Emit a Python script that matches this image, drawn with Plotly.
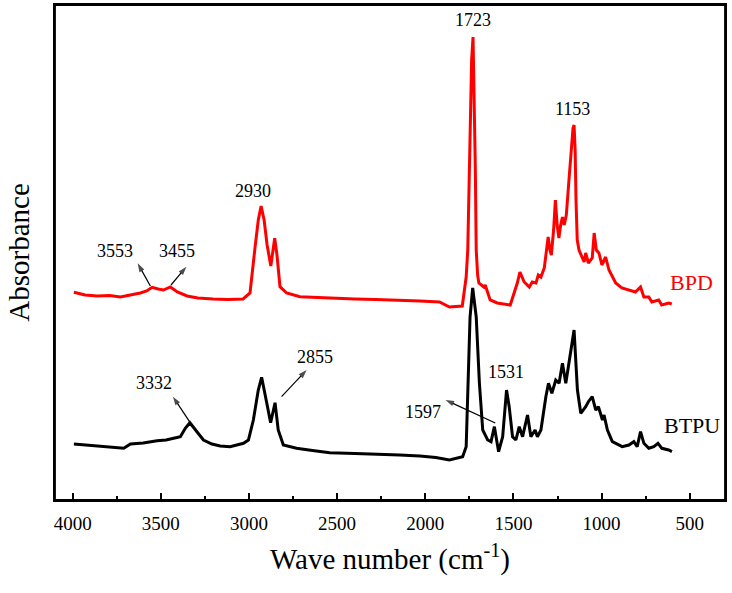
import plotly.graph_objects as go

# ---------------- data ----------------
bpd_wn = [3993, 3930, 3860, 3790, 3729, 3670, 3616, 3580, 3549, 3515, 3485, 3446, 3406, 3351, 3290,
          3203, 3120, 3033, 2994, 2965, 2947,
          2931, 2914, 2897, 2876, 2854, 2841, 2824, 2786, 2711, 2620, 2541, 2400, 2280, 2145, 2030,
          1919, 1863, 1790,
          1768, 1759, 1747, 1737, 1729, 1721, 1716, 1711, 1703, 1696, 1668, 1660, 1645, 1632,
          1592, 1518, 1478, 1463, 1439, 1410, 1393, 1372, 1359, 1344, 1325, 1313, 1303, 1293,
          1285, 1272, 1262, 1252, 1242, 1232, 1222, 1212, 1200, 1185, 1170, 1162, 1156, 1150,
          1145, 1138, 1128, 1113, 1099, 1090, 1075, 1053, 1042, 1030, 1015, 998, 977, 958, 920,
          885, 808, 779, 760, 732, 715, 676, 659, 619, 602]
bpd_abs = [207.7, 205, 204, 204.5, 203, 205, 207, 209, 212.7, 211, 210, 213, 208, 204, 202,
           201, 200.5, 201, 207, 253.3, 280,
           294, 280, 255, 234, 261.7, 245, 213.3, 207, 203.3, 202.5, 202, 201, 200.5, 200, 199,
           198, 193, 194,
           223, 250, 350, 440, 463, 400, 330, 250, 225, 217, 213, 215, 207, 200,
           197, 195, 217, 228, 218, 213, 218, 217, 225, 223, 232, 247, 263, 250,
           245, 270, 300, 275, 262, 275, 283, 275, 285, 320, 350, 372, 375, 350,
           300, 260, 250, 243, 238, 247, 237, 242, 267, 250, 247, 235, 243, 230, 217,
           212, 208, 213, 203, 203, 198, 200, 195, 197, 196]

btpu_wn = [3993, 3930, 3860, 3780, 3710, 3672, 3600, 3521, 3470, 3427, 3389, 3361, 3335, 3295, 3258,
           3210, 3163, 3107, 3060, 3031,
           3003, 2975, 2947, 2928, 2899, 2877, 2852, 2834, 2805, 2730, 2640, 2541, 2400, 2280, 2145,
           2030, 1940, 1863, 1788,
           1768, 1759, 1746, 1731, 1711, 1693, 1674, 1646, 1627, 1608, 1584, 1561, 1539, 1524,
           1505, 1486, 1467, 1448, 1420, 1401, 1377, 1364, 1344, 1316, 1301, 1282, 1260, 1241,
           1222, 1203, 1180, 1156, 1137, 1118, 1090, 1075, 1053, 1033, 1018, 995, 986, 967,
           939, 883, 845, 817, 798, 779, 760, 732, 704, 680, 658, 620, 601]
btpu_abs = [56, 55, 54, 53, 51.7, 56, 57, 59.3, 60, 61.7, 63.3, 71.7, 77.3, 68.3, 60,
            56, 54, 53.3, 55, 56.7,
            60, 80, 110, 122.7, 97, 77.3, 97.3, 70, 55, 51.7, 49.5, 47.3, 46.5, 46, 45,
            44, 42.5, 40, 43.3,
            53.3, 117, 183, 212, 183, 117, 70, 60, 58.3, 73.3, 48.3, 63.3, 110, 93.3,
            63.3, 60, 73.3, 63.3, 85, 63.3, 70, 63.3, 70, 103.3, 116.7, 106.7, 120, 116.7,
            136.7, 116.7, 143.3, 170, 110, 86.7, 93.3, 98.3, 103.3, 90, 93.3, 80, 85, 70,
            58.3, 53.3, 55, 58.3, 53.3, 68.3, 56.7, 51.7, 53.3, 56.7, 51.7, 50, 48.3]

peak_labels = ["3553", "3455", "2930", "1723", "1153", "3332", "2855", "1531", "1597"]
label_x = [3757, 3408, 2977, 1727, 1167, 3540, 2626, 1542, 2015]
label_y = [249.3, 249.3, 309, 480, 391, 116.7, 143, 128.3, 88]

# arrows: tail (on curve) -> head (towards label)
arrow_tail_x = [3559, 3442, 3337, 2815, 1603]
arrow_tail_y = [214, 215, 78.3, 103.3, 77]
arrow_head_x = [3631, 3355, 3431, 2673, 1885]
arrow_head_y = [236.7, 233.3, 103.3, 130, 100]

x_ticks = [4000, 3500, 3000, 2500, 2000, 1500, 1000, 500]
x_minor = [3750, 3250, 2750, 2250, 1750, 1250, 750]

FONT = "Liberation Serif"

fig = go.Figure()
fig.add_trace(go.Scatter(x=bpd_wn, y=bpd_abs, mode="lines", name="BPD",
                         line=dict(color="#ff0000", width=3), showlegend=False, hoverinfo="skip"))
fig.add_trace(go.Scatter(x=btpu_wn, y=btpu_abs, mode="lines", name="BTPU",
                         line=dict(color="#000000", width=3), showlegend=False, hoverinfo="skip"))

# arrows drawn as short line traces with an arrow marker at the head
for tx, ty, hx, hy in zip(arrow_tail_x, arrow_tail_y, arrow_head_x, arrow_head_y):
    fig.add_trace(go.Scatter(
        x=[tx, hx], y=[ty, hy], mode="lines+markers", showlegend=False, hoverinfo="skip",
        line=dict(color="black", width=1.2),
        marker=dict(symbol="arrow", size=[0, 9], angleref="previous", color="black",
                    line=dict(width=0))))

annotations = []
for t, x, y in zip(peak_labels, label_x, label_y):
    annotations.append(dict(x=x, y=y, xref="x", yref="y", text=t, showarrow=False,
                            font=dict(family=FONT, size=18, color="black")))
annotations.append(dict(x=489, y=218, xref="x", yref="y", text="BPD", showarrow=False,
                        font=dict(family=FONT, size=22, color="#ff0000")))
annotations.append(dict(x=489, y=75, xref="x", yref="y", text="BTPU", showarrow=False,
                        font=dict(family=FONT, size=22, color="black")))

fig.update_layout(
    width=732, height=593,
    margin=dict(l=55, r=7, t=5, b=93),
    paper_bgcolor="white", plot_bgcolor="white",
    font=dict(family=FONT, color="black"),
    annotations=annotations,
    shapes=[dict(type="rect", xref="paper", yref="paper", x0=0, x1=1, y0=0, y1=1,
                 line=dict(color="black", width=1.8), fillcolor="rgba(0,0,0,0)", layer="above")],
    xaxis=dict(range=[4100, 300], tickmode="array", tickvals=x_ticks,
               ticktext=[str(v) for v in x_ticks],
               ticks="inside", ticklen=7, tickwidth=1.5, tickcolor="black",
               ticklabelstandoff=5,
               minor=dict(tickmode="array", tickvals=x_minor,
                          ticks="inside", ticklen=4, tickwidth=1.5, tickcolor="black"),
               showline=True, linecolor="black", linewidth=1.8, mirror=True,
               showgrid=False, zeroline=False, automargin=False,
               tickfont=dict(family=FONT, size=19, color="black"),
               title=dict(text="Wave number (cm<sup>-1</sup>)",
                          font=dict(family=FONT, size=29, color="black"), standoff=16)),
    yaxis=dict(range=[0, 495], showticklabels=False, ticks="",
               showline=True, linecolor="black", linewidth=1.8, mirror=True,
               showgrid=False, zeroline=False, automargin=False,
               title=dict(text="Absorbance", font=dict(family=FONT, size=29, color="black"),
                          standoff=15)),
)

fig.write_html("out.html", config={"displayModeBar": False},
               post_script="document.body.style.margin='0px';")
